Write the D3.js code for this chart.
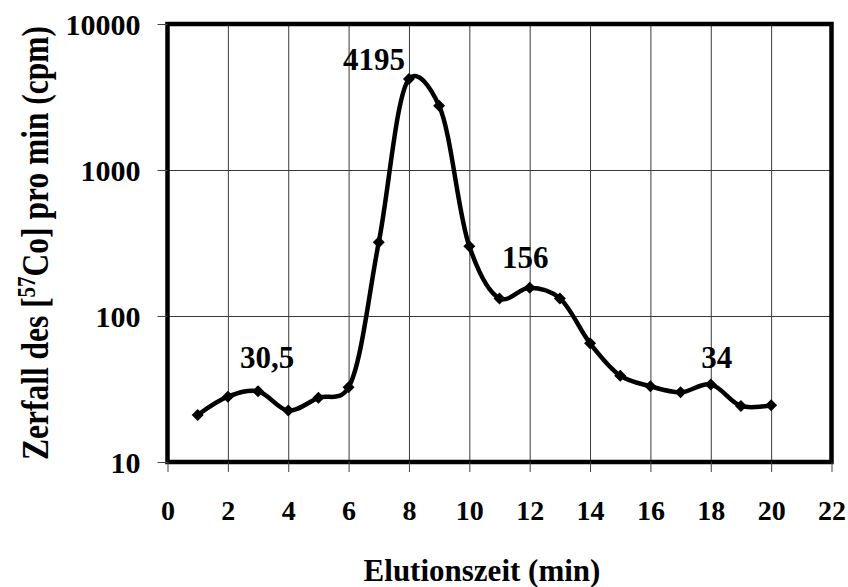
<!DOCTYPE html>
<html>
<head>
<meta charset="utf-8">
<script src="https://cdn.jsdelivr.net/npm/d3@7"></script>
<style>
  html, body { margin: 0; padding: 0; background: #fff; }
  svg text { font-family: "Liberation Serif", "Times New Roman", Times, serif; font-weight: bold; fill: #000; }
</style>
</head>
<body>
<svg id="chart" width="848" height="587"></svg>
<script>
// Elution profile of [57Co] activity (counts per minute) per fraction
const minutes = [1, 2, 3, 4, 5, 6, 7, 8, 9, 10, 11, 12, 13, 14, 15, 16, 17, 18, 19, 20];
const cpm = [21, 28, 30.5, 22.5, 27.5, 32.5, 320, 4195, 2750, 300, 132, 156, 132, 65, 39, 33, 30, 34, 24.2, 24.5];

// Fractions whose value is written next to the point
const labelledMinutes = [3, 8, 12, 18];

// Axis ticks
const xTickValues = [0, 2, 4, 6, 8, 10, 12, 14, 16, 18, 20, 22];
const yTickValues = [10, 100, 1000, 10000];

const xTitle = "Elutionszeit (min)";

const svg = d3.select("#chart");
const plotLeft = 167.5, plotRight = 831.5, plotTop = 24, plotBottom = 462;

const x = d3.scaleLinear().domain([0, 22]).range([plotLeft, plotRight]);
const y = d3.scaleLog().domain([10, 10000]).range([plotBottom, plotTop]);

const points = minutes.map((m, i) => ({ m, v: cpm[i] }));

// Grid lines
svg.append("g")
  .attr("transform", `translate(0,${plotBottom})`)
  .call(d3.axisBottom(x).tickValues(xTickValues).tickSize(-(plotBottom - plotTop)).tickFormat(""))
  .call(g => g.select(".domain").remove())
  .call(g => g.selectAll("line").attr("stroke", "#3a3a3a").attr("stroke-width", 1));

svg.append("g")
  .attr("transform", `translate(${plotLeft},0)`)
  .call(d3.axisLeft(y).tickValues(yTickValues).tickSize(-(plotRight - plotLeft)).tickFormat(""))
  .call(g => g.select(".domain").remove())
  .call(g => g.selectAll("line").attr("stroke", "#3a3a3a").attr("stroke-width", 1));

// Smoothed curve through the measured points
const line = d3.line()
  .x(d => x(d.m))
  .y(d => y(d.v))
  .curve(d3.curveCatmullRom.alpha(0.25));

svg.append("path")
  .datum(points)
  .attr("d", line)
  .attr("fill", "none")
  .attr("stroke", "#000")
  .attr("stroke-width", 4.5)
  .attr("stroke-linejoin", "round");

// Diamond markers
const r = 6;
svg.append("g")
  .selectAll("path")
  .data(points)
  .join("path")
  .attr("d", d => {
    const cx = x(d.m), cy = y(d.v);
    return `M${cx},${cy - r}L${cx + r},${cy}L${cx},${cy + r}L${cx - r},${cy}Z`;
  })
  .attr("fill", "#000");

// Plot frame
svg.append("rect")
  .attr("x", plotLeft).attr("y", plotTop)
  .attr("width", plotRight - plotLeft).attr("height", plotBottom - plotTop)
  .attr("fill", "none")
  .attr("stroke", "#000")
  .attr("stroke-width", 4.5);

// X axis ticks and labels
svg.append("g")
  .attr("transform", `translate(0,${plotBottom})`)
  .call(d3.axisBottom(x).tickValues(xTickValues).tickSize(10).tickFormat(d3.format("d")))
  .call(g => g.select(".domain").remove())
  .call(g => g.selectAll("line").attr("stroke", "#444").attr("stroke-width", 1))
  .call(g => g.selectAll("text").attr("font-size", 28).attr("dy", null).attr("y", 58)
    .style("font-family", "'Liberation Serif', 'Times New Roman', serif").style("font-weight", "bold").attr("fill", "#000"));

// Y axis ticks and labels
svg.append("g")
  .attr("transform", `translate(${plotLeft},0)`)
  .call(d3.axisLeft(y).tickValues(yTickValues).tickSize(10).tickFormat(d3.format("d")))
  .call(g => g.select(".domain").remove())
  .call(g => g.selectAll("line").attr("stroke", "#444").attr("stroke-width", 1))
  .call(g => g.selectAll("text").attr("font-size", 30).attr("x", -27).attr("dy", "0.34em")
    .style("font-family", "'Liberation Serif', 'Times New Roman', serif").style("font-weight", "bold").attr("fill", "#000"));

// Value labels
const labelOffset = { 3: [9, -23], 8: [-35, -9], 12: [-4.5, -20], 18: [6, -16] };
svg.append("g")
  .selectAll("text")
  .data(points.filter(p => labelledMinutes.includes(p.m)))
  .join("text")
  .attr("x", d => x(d.m) + labelOffset[d.m][0])
  .attr("y", d => y(d.v) + labelOffset[d.m][1])
  .attr("text-anchor", "middle")
  .attr("font-size", 31)
  .text(d => String(d.v).replace(".", ","));

// Axis titles
svg.append("text")
  .attr("x", 482).attr("y", 581)
  .attr("text-anchor", "middle")
  .attr("font-size", 31)
  .text(xTitle);

const yTitle = svg.append("text")
  .attr("transform", `translate(48,${(plotTop + plotBottom) / 2}) rotate(-90) scale(1,1.2)`)
  .attr("text-anchor", "middle")
  .attr("font-size", 31.5);
yTitle.append("tspan").text("Zerfall des [");
yTitle.append("tspan").attr("font-size", 21).attr("dy", -11).text("57");
yTitle.append("tspan").attr("dy", 11).text("Co] pro min (cpm)");
</script>
</body>
</html>
